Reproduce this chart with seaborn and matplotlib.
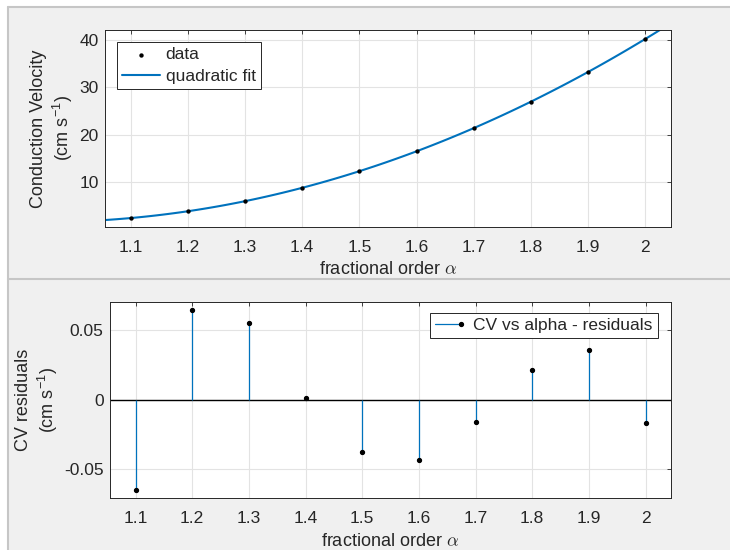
"""CV vs fractional order: quadratic fit (top) and residual stems (bottom)."""

import matplotlib
matplotlib.use("Agg")  # no display
import matplotlib.pyplot as plt
from matplotlib.legend_handler import HandlerLine2D
from matplotlib.lines import Line2D
from matplotlib.patches import Rectangle
from matplotlib.ticker import FixedLocator, FuncFormatter
import seaborn as sns

# values
alpha = [1.1, 1.2, 1.3, 1.4, 1.5, 1.6, 1.7, 1.8, 1.9, 2.0]
cv = [2.44, 3.97, 6.07, 8.8, 12.3, 16.5, 21.4, 26.95, 33.2, 40.1]
cv_resid = [-0.0647, 0.0645, 0.0554, 0.0014, -0.0379,
            -0.0432, -0.0163, 0.0216, 0.0357, -0.0170]
alpha_ticks = [1.1, 1.2, 1.3, 1.4, 1.5, 1.6, 1.7, 1.8, 1.9, 2.0]
cv_ticks = [10, 20, 30, 40]
resid_ticks = [-0.05, 0, 0.05]

BLUE = "#0072BD"
INK = "#262626"
W, H = 730, 550
FS = 12.5


class StemHandler(HandlerLine2D):
    """Legend key like MATLAB's stem: line with the dot at its right end."""

    def create_artists(self, *args, **kwargs):
        artists = super().create_artists(*args, **kwargs)
        for a in artists:
            a.set_markevery([len(a.get_xdata()) - 1])
        return artists


sns.set_style("white")
plt.rcParams.update({
    "font.family": ["Liberation Sans", "DejaVu Sans"],
    "font.size": FS,
    "axes.unicode_minus": False,
    "mathtext.fontset": "custom",
    "mathtext.rm": "Liberation Sans",
    "mathtext.it": "Liberation Sans:italic",
    "text.color": INK,
    "axes.labelcolor": INK,
    "xtick.color": INK,
    "ytick.color": INK,
    "axes.edgecolor": INK,
})

fig = plt.figure(figsize=(W / 100, H / 100), dpi=100, facecolor="white")

# grey panel background with borders, like the original GUI panels
fig.patches.append(Rectangle((8 / W, 0), 1, 1 - 7 / H, transform=fig.transFigure,
                             facecolor="#f0f0f0", edgecolor="none", zorder=-2))
for xs, ys in [([8 / W, 8 / W], [0, 1 - 7 / H]),
               ([8 / W, 1], [1 - 7 / H, 1 - 7 / H]),
               ([8 / W, 1], [1 - 278.5 / H, 1 - 278.5 / H])]:
    fig.lines.append(Line2D(xs, ys, transform=fig.transFigure,
                            color="#c6c6c6", lw=1.5, zorder=-1))

ax1 = fig.add_axes([105 / W, 1 - 227 / H, 566 / W, 197 / H])
ax2 = fig.add_axes([110 / W, 1 - 498.3 / H, 561 / W, 196.6 / H])

fmt = FuncFormatter(lambda v, p: f"{v:g}")
for ax in (ax1, ax2):
    ax.set_facecolor("white")
    ax.set_xlim(1.055, 2.045)
    ax.xaxis.set_major_locator(FixedLocator(alpha_ticks))
    ax.xaxis.set_major_formatter(fmt)
    ax.yaxis.set_major_formatter(fmt)
    ax.grid(True, color="#e3e3e3", lw=0.8)
    ax.set_axisbelow(True)
    ax.tick_params(direction="in", length=2.6, width=0.6, top=True, right=True,
                   labelsize=FS)
    ax.tick_params(axis="x", pad=9)
    ax.tick_params(axis="y", pad=4.5)
    for sp in ax.spines.values():
        sp.set_linewidth(0.7)
        sp.set_color(INK)

# top: data + quadratic fit
ax1.set_ylim(0.6, 42)
ax1.yaxis.set_major_locator(FixedLocator(cv_ticks))
sns.scatterplot(x=alpha, y=cv, ax=ax1, color="black", s=10, marker="o",
                edgecolor="black", linewidth=0, label="data", zorder=3, legend=False)
sns.regplot(x=alpha, y=cv, ax=ax1, order=2, ci=None, scatter=False, truncate=False,
            color=BLUE, label="quadratic fit", line_kws=dict(lw=1.5, zorder=2))
ax1.set_xlim(1.055, 2.045)
ax1.set_ylim(0.6, 42)
ax1.set_xlabel(r"fractional order $\alpha$", math_fontfamily="cm", labelpad=5,
               fontsize=13)
ax1.set_ylabel("Conduction Velocity\n(cm s$^{\\mathregular{-1}}$)", labelpad=3.5,
               fontsize=13)
h_scatter = ax1.collections[0]
h_fit = ax1.get_lines()[-1]
ax1.legend([h_scatter, h_fit], ["data", "quadratic fit"], loc="upper left",
           bbox_to_anchor=(12 / 566, 1 - 12 / 197), borderaxespad=0,
           fancybox=False, framealpha=1, edgecolor=INK, handlelength=2.2,
           handletextpad=0.3, borderpad=0.3, labelspacing=0.35, fontsize=FS,
           ).get_frame().set_linewidth(0.7)

# bottom: residual stems
ax2.set_ylim(-0.0709, 0.0706)
ax2.yaxis.set_major_locator(FixedLocator(resid_ticks))
ax2.axhline(0, color="black", lw=1.0, zorder=2)
ml, sl, bl = ax2.stem(alpha, cv_resid, linefmt="-", markerfmt="o", basefmt=" ")
sl.set_color(BLUE)
sl.set_linewidth(0.9)
ml.set_color("black")
ml.set_markersize(2.8)
ml.set_zorder(3)
ax2.set_xlabel(r"fractional order $\alpha$", math_fontfamily="cm", labelpad=5,
               fontsize=13)
ax2.set_ylabel("CV residuals\n(cm s$^{\\mathregular{-1}}$)", labelpad=3,
               fontsize=13)
stem_handle = Line2D([], [], color=BLUE, lw=0.9, marker="o", markersize=2.8,
                     markerfacecolor="black", markeredgecolor="black")
ax2.legend([stem_handle], ["CV vs alpha - residuals"], loc="upper right",
           bbox_to_anchor=(1 - 13 / 561, 1 - 11 / 196.6), borderaxespad=0,
           fancybox=False, framealpha=1, edgecolor=INK, handlelength=1.5,
           handletextpad=0.7, borderpad=0.3, fontsize=FS,
           handler_map={stem_handle: StemHandler()},
           ).get_frame().set_linewidth(0.7)

fig.savefig("out.png", dpi=100, facecolor="white")
plt.close(fig)
